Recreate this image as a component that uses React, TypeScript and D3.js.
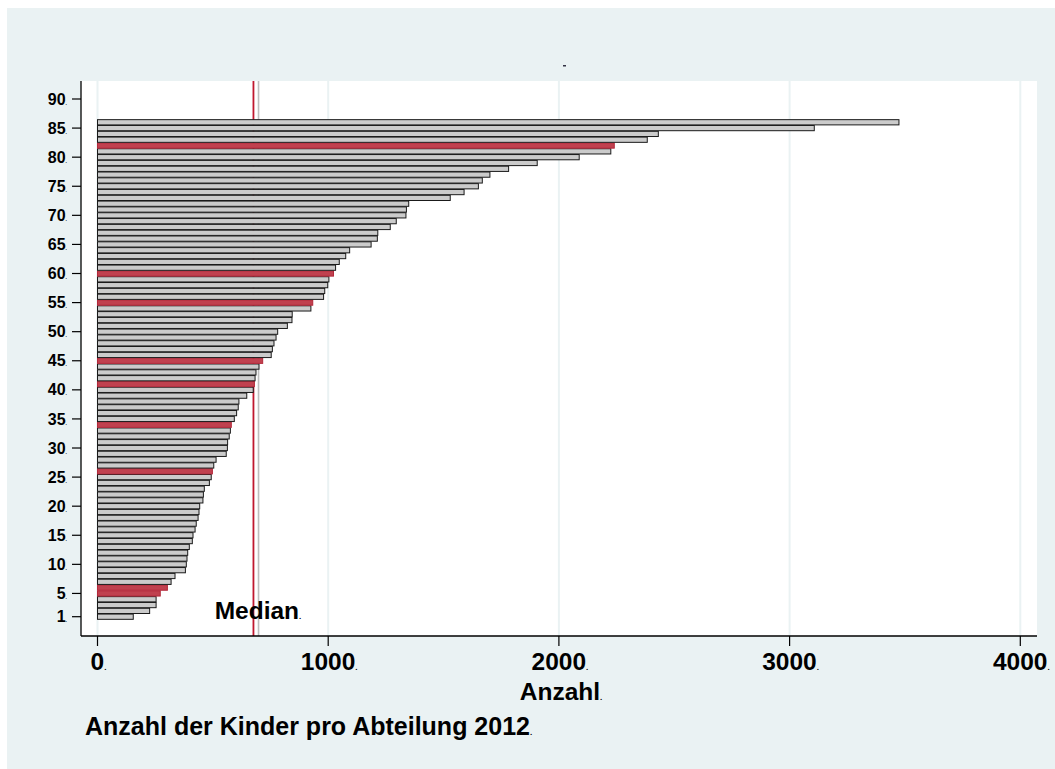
import React from "react";
import * as d3 from "d3";

// Bars ordered 1..86 (bottom to top), values = Anzahl der Kinder
const barValues: number[] = [
  155, 226, 254, 254, 272, 303, 319, 336, 381, 385,
  388, 391, 398, 411, 414, 423, 428, 436, 440, 443,
  457, 459, 463, 485, 493, 498, 504, 514, 558, 563,
  564, 571, 576, 580, 593, 603, 610, 613, 647, 675,
  680, 683, 687, 700, 716, 753, 758, 765, 774, 781,
  823, 843, 844, 925, 933, 980, 985, 998, 1003, 1023,
  1032, 1048, 1076, 1093, 1186, 1213, 1215, 1269, 1295, 1337,
  1339, 1349, 1529, 1589, 1651, 1668, 1701, 1782, 1906, 2088,
  2225, 2240, 2383, 2431, 3107, 3474,
];
const highlighted: number[] = [5, 6, 26, 34, 41, 45, 55, 60, 82];
const yTicks: number[] = [1, 5, 10, 15, 20, 25, 30, 35, 40, 45, 50, 55, 60, 65, 70, 75, 80, 85, 90];
const xTicks: number[] = [0, 1000, 2000, 3000, 4000];
const medianValue = 676;
const secondLineValue = 698;
const medianLabelX = 508;
const xTitle = "Anzahl";
const caption = "Anzahl der Kinder pro Abteilung 2012";

const BG = "#eaf2f3";
const FONT = "'Liberation Sans', Arial, sans-serif";

export default function App() {
  const W = 1048;
  const H = 761;
  const ox = 7;
  const oy = 8;
  const plotL = 81 - ox;
  const plotR = 1037 - ox;
  const plotT = 81 - oy;
  const plotB = 636 - oy;

  const x = d3.scaleLinear().domain([0, 4000]).range([97.5 - ox, 1020.3 - ox]);
  const y = d3.scaleLinear().domain([1, 90]).range([616.7 - oy, 99 - oy]);
  const step = Math.abs(y(2) - y(1));
  const bh = step * 0.9;

  const data = barValues.map((v, i) => ({ idx: i + 1, v, hi: highlighted.includes(i + 1) }));

  return (
    <div>
      <style>{`body{margin:0;overflow:hidden;background:#fff}`}</style>
      <svg
        width={W}
        height={H}
        style={{ position: "absolute", left: ox, top: oy, display: "block" }}
        fontFamily={FONT}
      >
        <rect x={0} y={0} width={W} height={H} fill={BG} />
        <rect x={plotL} y={plotT} width={plotR - plotL} height={plotB - plotT} fill="#ffffff" />
        {xTicks.map((t) => (
          <line key={"g" + t} x1={x(t)} x2={x(t)} y1={plotT} y2={plotB} stroke={BG} strokeWidth={2} />
        ))}
        <line x1={x(secondLineValue)} x2={x(secondLineValue)} y1={plotT} y2={plotB} stroke="#bdbdbd" strokeWidth={1.6} />
        <line x1={x(medianValue)} x2={x(medianValue)} y1={plotT} y2={plotB} stroke="#c0182f" strokeWidth={1.8} />
        {data.map((d) => (
          <rect
            key={d.idx}
            x={x(0)}
            y={y(d.idx) - bh / 2}
            width={x(d.v) - x(0)}
            height={bh}
            fill={d.hi ? "#c0414f" : "#cbcbcb"}
            stroke={d.hi ? "#b3283a" : "#1a1a1a"}
            strokeWidth={1}
          />
        ))}
        <text x={x(medianLabelX)} y={618.5 - oy} fontSize={24.5} fontWeight="bold" fill="#000">
          Median<tspan fontSize={8}>.</tspan>
        </text>
        <line x1={plotL} x2={plotL} y1={plotT} y2={plotB} stroke="#000" strokeWidth={1.3} />
        <line x1={plotL} x2={plotR} y1={plotB} y2={plotB} stroke="#000" strokeWidth={1.3} />
        {yTicks.map((t) => (
          <g key={"y" + t}>
            <line x1={plotL - 9} x2={plotL} y1={y(t)} y2={y(t)} stroke="#000" strokeWidth={1.2} />
            <text x={67 - ox} y={y(t) + 5.6} textAnchor="end" fontSize={16} fontWeight="bold" fill="#000">
              {t}
              <tspan fontSize={5}>.</tspan>
            </text>
          </g>
        ))}
        {xTicks.map((t) => (
          <g key={"x" + t}>
            <line x1={x(t)} x2={x(t)} y1={plotB} y2={plotB + 10} stroke="#000" strokeWidth={1.2} />
            <text x={x(t) + 1} y={670 - oy} textAnchor="middle" fontSize={24.5} fontWeight="bold" fill="#000">
              {t}
              <tspan fontSize={8}>.</tspan>
            </text>
          </g>
        ))}
        <text x={561 - ox} y={700 - oy} textAnchor="middle" fontSize={24.5} fontWeight="bold" fill="#000">
          {xTitle}
          <tspan fontSize={8}>.</tspan>
        </text>
        <text x={85 - ox} y={735 - oy} fontSize={25} fontWeight="bold" fill="#000">
          {caption}
          <tspan fontSize={8}>.</tspan>
        </text>
        <rect x={563 - ox} y={65 - oy} width={3} height={1.5} fill="#334" />
      </svg>
    </div>
  );
}
